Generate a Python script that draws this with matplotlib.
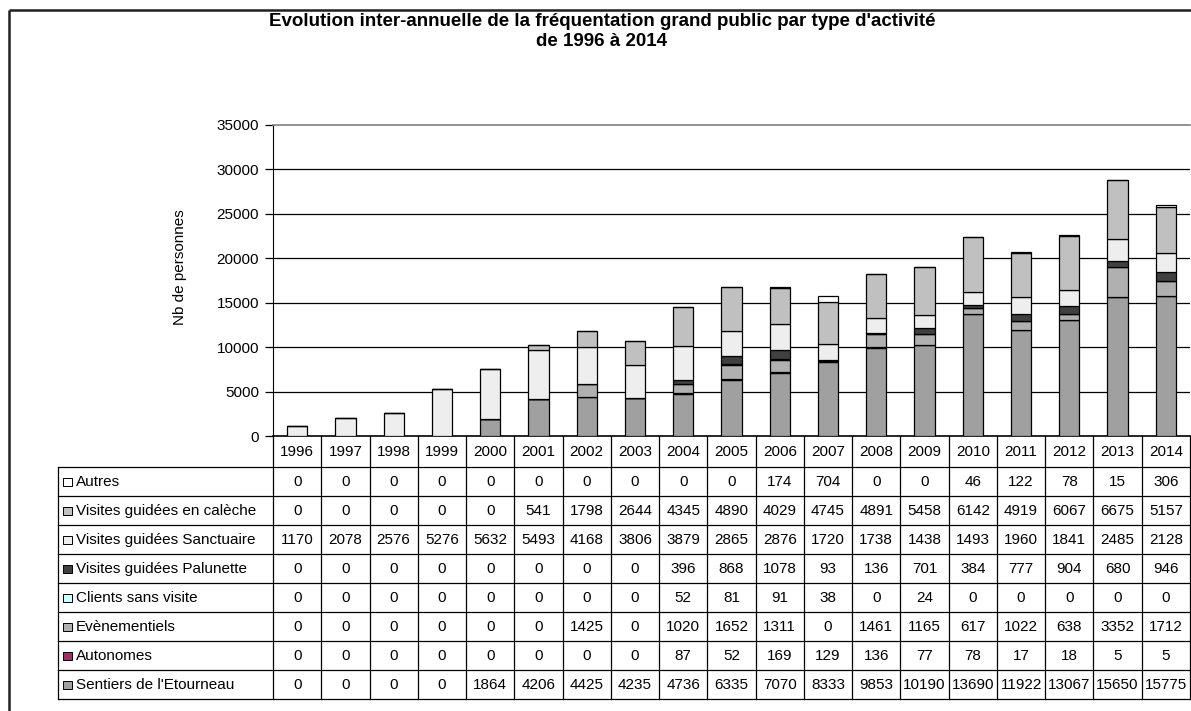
import matplotlib
matplotlib.use("Agg")
import matplotlib.pyplot as plt
from matplotlib.patches import Rectangle

plt.rcParams['font.family'] = ['Liberation Sans', 'DejaVu Sans']

years = ["1996", "1997", "1998", "1999", "2000", "2001", "2002", "2003", "2004", "2005",
         "2006", "2007", "2008", "2009", "2010", "2011", "2012", "2013", "2014"]

sentiers = [0, 0, 0, 0, 1864, 4206, 4425, 4235, 4736, 6335, 7070, 8333, 9853, 10190, 13690, 11922, 13067, 15650, 15775]
autonomes = [0, 0, 0, 0, 0, 0, 0, 0, 87, 52, 169, 129, 136, 77, 78, 17, 18, 5, 5]
evenementiels = [0, 0, 0, 0, 0, 0, 1425, 0, 1020, 1652, 1311, 0, 1461, 1165, 617, 1022, 638, 3352, 1712]
clients = [0, 0, 0, 0, 0, 0, 0, 0, 52, 81, 91, 38, 0, 24, 0, 0, 0, 0, 0]
palunette = [0, 0, 0, 0, 0, 0, 0, 0, 396, 868, 1078, 93, 136, 701, 384, 777, 904, 680, 946]
sanctuaire = [1170, 2078, 2576, 5276, 5632, 5493, 4168, 3806, 3879, 2865, 2876, 1720, 1738, 1438, 1493, 1960, 1841, 2485, 2128]
caleche = [0, 0, 0, 0, 0, 541, 1798, 2644, 4345, 4890, 4029, 4745, 4891, 5458, 6142, 4919, 6067, 6675, 5157]
autres = [0, 0, 0, 0, 0, 0, 0, 0, 0, 0, 174, 704, 0, 0, 46, 122, 78, 15, 306]

# stacking order bottom -> top
stack_names = ["Sentiers de l'Etourneau", "Autonomes", "Evènementiels", "Clients sans visite",
               "Visites guidées Palunette", "Visites guidées Sanctuaire",
               "Visites guidées en calèche", "Autres"]
stack_values = [sentiers, autonomes, evenementiels, clients, palunette, sanctuaire, caleche, autres]
stack_colors = ["#A0A0A0", "#993366", "#B0B0B0", "#CCFFFF", "#404040", "#EEEEEE", "#C0C0C0", "#FFFFFF"]

yticks = [0, 5000, 10000, 15000, 20000, 25000, 30000, 35000]

W, H = 1191, 711
fig = plt.figure(figsize=(W / 100, H / 100), dpi=100)
fig.patch.set_facecolor("white")

FS = 11

# pixel geometry
px_left, px_right = 273, 1190
px_top, px_bottom = 125, 436
ax = fig.add_axes([px_left / W, 1 - px_bottom / H, (px_right - px_left) / W, (px_bottom - px_top) / H])
n = len(years)
xs = list(range(n))
bottoms = [0] * n
for name, vals, col in zip(stack_names, stack_values, stack_colors):
    ax.bar(xs, vals, bottom=bottoms, width=0.42, color=col, edgecolor="black", linewidth=0.9, zorder=3)
    bottoms = [b + v for b, v in zip(bottoms, vals)]

ax.set_xlim(-0.5, n - 0.5)
ax.set_ylim(0, 35000)
ax.set_yticks(yticks)
ax.set_yticklabels([str(t) for t in yticks], fontsize=FS)
ax.set_xticks([])
for t in yticks[1:-1]:
    ax.axhline(t, color="black", linewidth=0.9, zorder=1)
ax.spines['top'].set_color("#808080")
ax.spines['top'].set_linewidth(1.2)
ax.spines['right'].set_visible(False)
ax.spines['left'].set_color("black")
ax.spines['bottom'].set_color("black")
ax.spines['bottom'].set_linewidth(1.2)
ax.tick_params(axis='y', direction='out', length=6, width=0.9, pad=4)

# overlay in pixel coordinates for frame, title and data table
ov = fig.add_axes([0, 0, 1, 1], zorder=-1)
ov.set_xlim(0, W)
ov.set_ylim(H, 0)
ov.axis("off")
ov.plot([9, W + 5], [10, 10], color="#202020", lw=1.8, solid_capstyle="butt")
ov.plot([9, 9], [10, H + 5], color="#202020", lw=1.8, solid_capstyle="butt")

fig.text(602 / W, 1 - 21 / H, "Evolution inter-annuelle de la fréquentation grand public par type d'activité",
         ha="center", va="center", fontsize=13.5, fontweight="bold")
fig.text(602 / W, 1 - 42 / H, "de 1996 à 2014", ha="center", va="center", fontsize=13.5, fontweight="bold")
fig.text(180 / W, 1 - 267 / H, "Nb de personnes", rotation=90, ha="center", va="center", fontsize=FS)

ov2 = fig.add_axes([0, 0, 1, 1], zorder=5)
ov2.set_xlim(0, W)
ov2.set_ylim(H, 0)
ov2.axis("off")
ov2.patch.set_alpha(0)

tab_left = 58
head_top, head_bot = 436, 467
row_h = 29
rows_top = [stack_names[::-1], stack_values[::-1], stack_colors[::-1]]
n_rows = len(stack_names)
tab_bot = head_bot + n_rows * row_h
col_w = (px_right - px_left) / n

# header year labels
for i, y in enumerate(years):
    cx = px_left + (i + 0.5) * col_w
    ov2.text(cx, (head_top + head_bot) / 2 + 1, y, ha="center", va="center", fontsize=FS)
# vertical lines
for i in range(n + 1):
    x = px_left + i * col_w
    ov2.plot([x, x], [head_top, tab_bot], color="black", lw=0.9)
ov2.plot([tab_left, tab_left], [head_bot, tab_bot], color="black", lw=0.9)
# horizontal lines
for r in range(n_rows + 1):
    yv = head_bot + r * row_h
    ov2.plot([tab_left, px_right + 5], [yv, yv], color="black", lw=0.9)
# rows
for r, (name, vals, col) in enumerate(zip(*rows_top)):
    cy = head_bot + (r + 0.5) * row_h
    ov2.add_patch(Rectangle((63, cy - 4), 8.5, 8.5, facecolor=col, edgecolor="black", lw=0.7))
    ov2.text(76, cy + 0.5, name, ha="left", va="center", fontsize=FS)
    for i, v in enumerate(vals):
        cx = px_left + (i + 0.5) * col_w
        ov2.text(cx, cy + 0.5, str(v), ha="center", va="center", fontsize=FS)

fig.savefig("out.png", dpi=100)
